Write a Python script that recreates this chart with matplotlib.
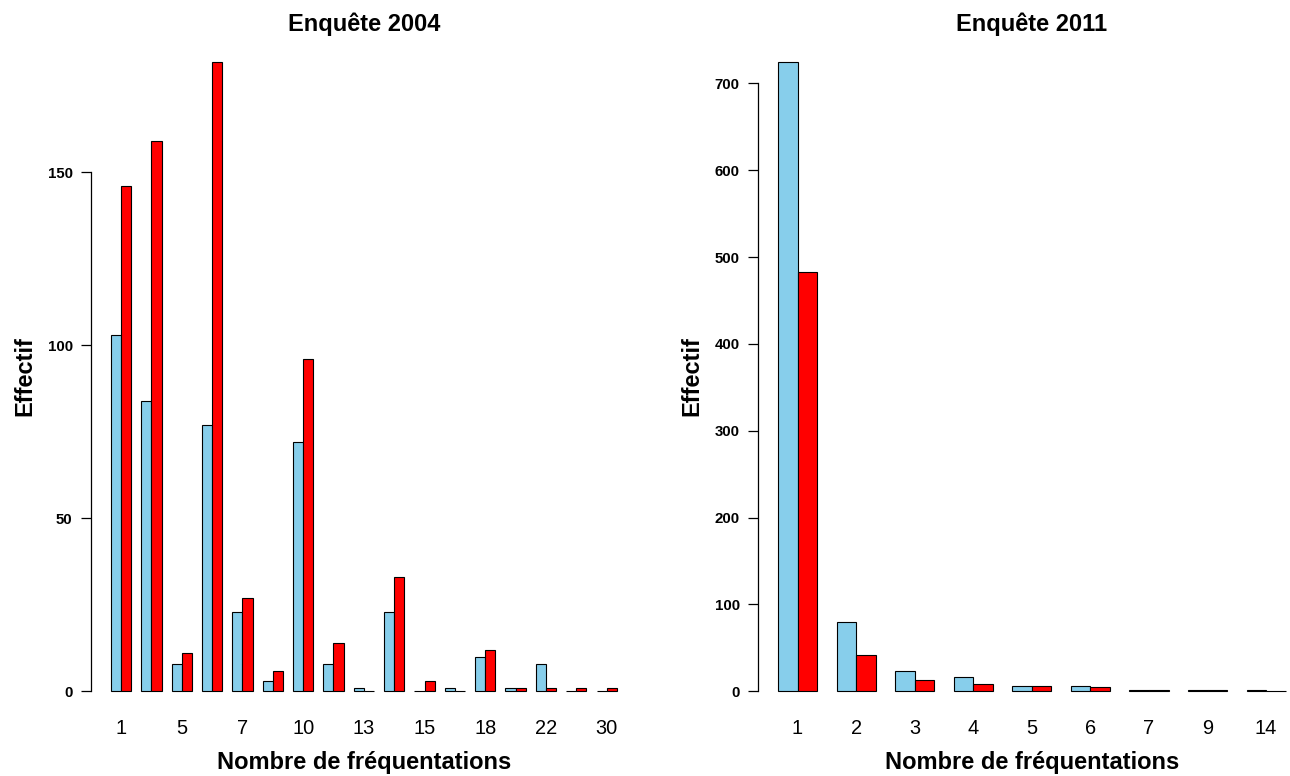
import numpy as np
import matplotlib
matplotlib.use('Agg')
import matplotlib.pyplot as plt

plt.rcParams['font.family'] = ['Liberation Sans', 'DejaVu Sans']

# Enquete 2004
cat_2004 = ['1', '3', '5', '6', '7', '8', '10', '12', '13', '14', '15', '16', '18', '20', '22', '25', '30']
blue_2004 = [103, 84, 8, 77, 23, 3, 72, 8, 1, 23, 0, 1, 10, 1, 8, 0, 0]
red_2004 = [146, 159, 11, 182, 27, 6, 96, 14, 0, 33, 3, 0, 12, 1, 1, 1, 1]
yticks_2004 = [0, 50, 100, 150]

# Enquete 2011
cat_2011 = ['1', '2', '3', '4', '5', '6', '7', '9', '14']
blue_2011 = [725, 80, 23, 17, 6, 6, 1, 1, 1]
red_2011 = [483, 42, 13, 8, 6, 5, 1, 1, 0]
yticks_2011 = [0, 100, 200, 300, 400, 500, 600, 700]

W, H = 1290, 776
fig = plt.figure(figsize=(W / 100, H / 100), dpi=100)


def barplot(rect, cats, blue, red, yticks, title, skip):
    ax = fig.add_axes(rect)
    n = len(cats)
    left = 1 + 3 * np.arange(n)          # R beside=TRUE, space=c(0,1)
    ax.bar(left + 0.5, blue, width=1, color='skyblue', edgecolor='black', linewidth=0.8)
    ax.bar(left + 1.5, red, width=1, color='red', edgecolor='black', linewidth=0.8)
    xr = (1, 3 * n)
    ext = 0.04 * (xr[1] - xr[0])
    ax.set_xlim(xr[0] - ext, xr[1] + ext)
    ymax = max(max(blue), max(red))
    ax.set_ylim(-0.04 * ymax, 1.04 * ymax)

    ax.set_xticks(left + 1)
    labs = [c if i % skip == 0 else '' for i, c in enumerate(cats)]
    ax.set_xticklabels(labs, fontsize=14.4)
    ax.tick_params(axis='x', length=0, pad=2)
    ax.set_yticks(yticks)
    ax.set_yticklabels([str(t) for t in yticks], fontsize=10.8, fontweight='bold')
    ax.tick_params(axis='y', length=7, width=0.9, pad=6)

    for s in ['top', 'right', 'bottom']:
        ax.spines[s].set_visible(False)
    ax.spines['left'].set_bounds(yticks[0], yticks[-1])
    ax.spines['left'].set_linewidth(0.9)

    ax.set_title(title, fontsize=17, fontweight='bold', pad=3.5)
    ax.set_xlabel('Nombre de fréquentations', fontsize=17, fontweight='bold')
    ax.set_ylabel('Effectif', fontsize=17, fontweight='bold')
    wpx = rect[2] * W
    ax.yaxis.set_label_coords(-54 / wpx, 0.5)
    ax.xaxis.set_label_coords(0.5, -34 / (rect[3] * H))
    return ax


y0 = 1 - 716.5 / H
hh = (716.5 - 36.5) / H
barplot([90.7 / W, y0, (637 - 90.7) / W, hh], cat_2004, blue_2004, red_2004,
        yticks_2004, 'Enquête 2004', 2)
barplot([757.7 / W, y0, (1306 - 757.7) / W, hh], cat_2011, blue_2011, red_2011,
        yticks_2011, 'Enquête 2011', 1)

fig.savefig('out.png', dpi=100)
